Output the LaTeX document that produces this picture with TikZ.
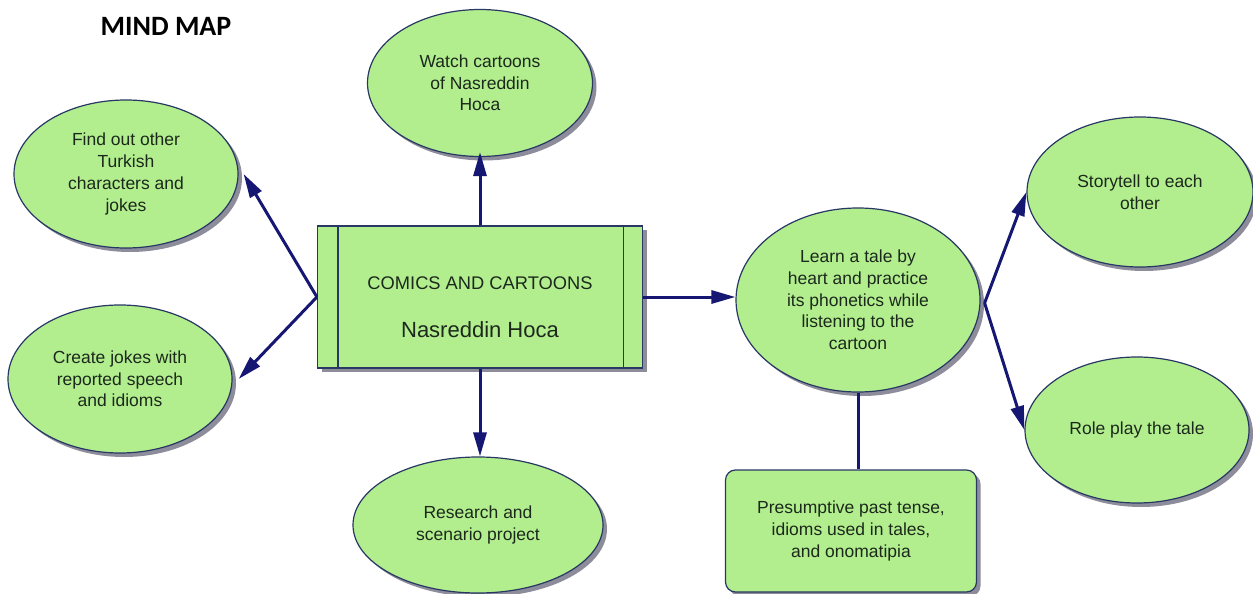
\documentclass[tikz,border=0pt]{standalone}
\usepackage{fontspec}
\setmainfont{Liberation Sans}
\newfontfamily\titlefont{Carlito}
\usetikzlibrary{shapes.geometric,arrows.meta,shadows}
\definecolor{fillg}{RGB}{178,238,142}
\definecolor{edgeb}{RGB}{40,55,100}
\definecolor{arrowb}{RGB}{22,22,115}
\definecolor{txt}{RGB}{28,40,28}
\definecolor{shad}{RGB}{140,140,155}
\begin{document}
\begin{tikzpicture}[x=1pt,y=-1pt,
  shadowed/.style={drop shadow={shadow xshift=4pt, shadow yshift=-4pt, fill=shad, opacity=1}},
  bubble/.style={ellipse, draw=edgeb, line width=1.2pt, fill=fillg, inner sep=0pt, align=center,
    text=txt, font=\fontsize{17.5}{21.7}\selectfont, shadowed},
  mainbox/.style={rectangle, draw=edgeb, line width=1.2pt, fill=fillg, inner sep=0pt,
    minimum width=325pt, minimum height=142pt, shadowed},
  notebox/.style={rectangle, rounded corners=10pt, draw=edgeb, line width=1.2pt, fill=fillg, inner sep=0pt,
    align=center, text=txt, font=\fontsize{17.5}{21.7}\selectfont,
    minimum width=251pt, minimum height=122pt, shadowed},
  arr/.style={draw=arrowb, line width=3pt, -{Triangle[length=24pt,width=13pt]}},
  plain/.style={draw=arrowb, line width=3pt}
]
\useasboundingbox (0,0) rectangle (1253,594);

\node[font=\titlefont\bfseries\fontsize{28}{32}\selectfont] (title) at (166,26) {MIND MAP};

\node[bubble, minimum width=225pt, minimum height=147pt] (watch) at (480,83) {Watch cartoons\\of Nasreddin\\Hoca};
\node[bubble, minimum width=224pt, minimum height=148pt] (find) at (126,174) {Find out other\\Turkish\\characters and\\jokes};
\node[bubble, minimum width=224pt, minimum height=148pt] (create) at (120,379) {Create jokes with\\reported speech\\and idioms};
\node[bubble, minimum width=250pt, minimum height=136pt] (research) at (478,525) {Research and\\scenario project};
\node[bubble, minimum width=244pt, minimum height=184pt] (learn) at (858,300) {Learn a tale by\\heart and practice\\its phonetics while\\listening to the\\cartoon};
\node[bubble, minimum width=226pt, minimum height=150pt] (story) at (1140,192) {Storytell to each\\other};
\node[bubble, minimum width=224pt, minimum height=146pt] (role) at (1137,430) {Role play the tale};

\node[mainbox] (box) at (480,297) {};
\draw[draw=edgeb, line width=1.2pt] ([xshift=21pt]box.north west) -- ([xshift=21pt]box.south west);
\draw[draw=edgeb, line width=1.2pt] ([xshift=-20pt]box.north east) -- ([xshift=-20pt]box.south east);
\node[text=txt, font=\fontsize{18.3}{20}\selectfont] (boxt1) at (480,283) {COMICS AND CARTOONS};
\node[text=txt, font=\fontsize{22}{24}\selectfont] (boxt2) at (480,330) {Nasreddin Hoca};

\node[notebox] (pres) at (851,531) {Presumptive past tense,\\idioms used in tales,\\and onomatipia};

\draw[arr] (box.north) -- ([yshift=5pt]watch.south);
\draw[arr] (box.west) -- ([xshift=5pt]find.east);
\draw[arr] (box.west) -- ([xshift=6pt]create.east);
\draw[arr] (box.south) -- (box.south |- research.north);
\draw[arr] (box.east) -- (box.east -| learn.west);
\draw[arr] ([xshift=4pt,yshift=-3pt]learn.east) -- (story.west);
\draw[arr] ([xshift=4pt,yshift=-3pt]learn.east) -- (role.west);
\draw[plain] (learn.south) -- (learn.south |- pres.north);
\end{tikzpicture}
\end{document}
